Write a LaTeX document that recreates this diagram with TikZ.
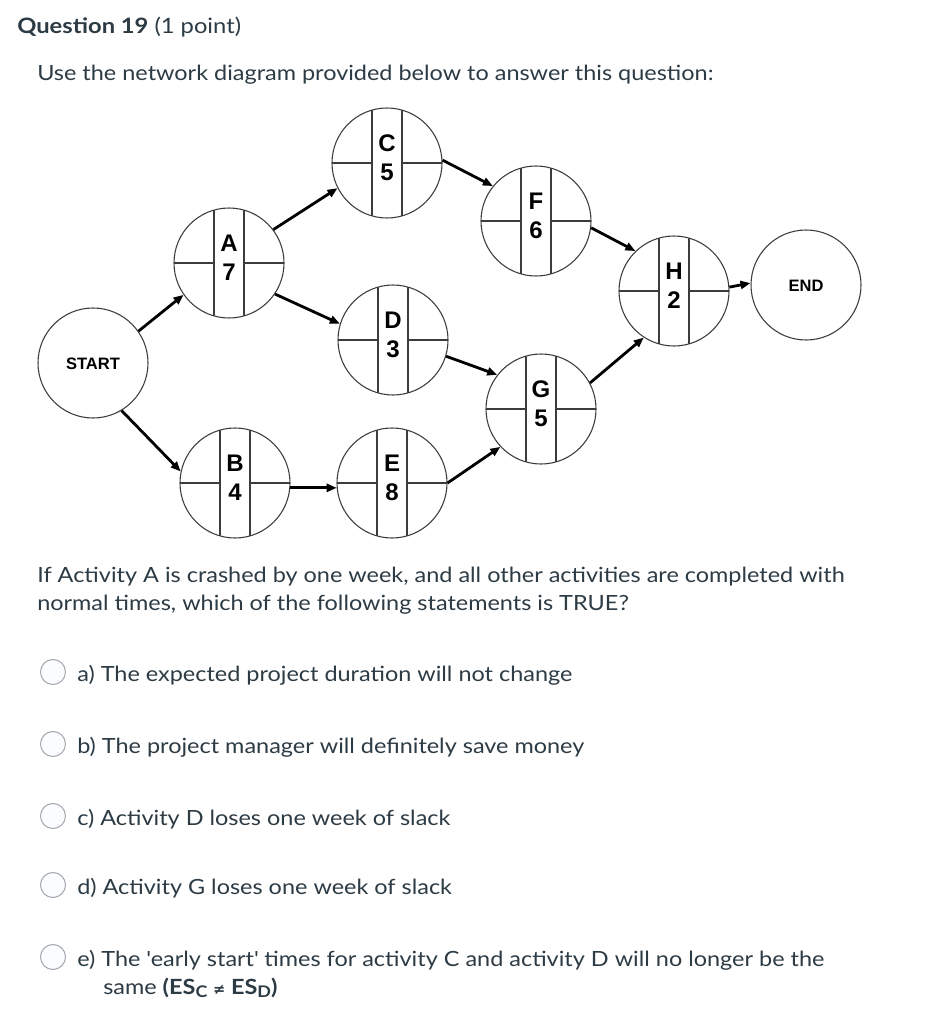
\documentclass[tikz,border=0pt]{standalone}
\usepackage{fontspec}
\setmainfont{Lato}[FakeStretch=1.12]
\newfontfamily\arialf{Liberation Sans}
\newfontfamily\dejavu{DejaVu Sans}
\usetikzlibrary{arrows.meta}
\definecolor{txt}{HTML}{2D3B45}
\definecolor{circ}{HTML}{3C3C3C}
\definecolor{radio}{HTML}{A3A9B0}
\definecolor{radiofill}{HTML}{FBFCFF}
\tikzset{
  actc/.style={circle,draw=circ,line width=0.8pt,inner sep=0pt,minimum size=82.5pt},
  divline/.style={draw=circ,line width=0.8pt},
  actlet/.style={anchor=base,font=\arialf\bfseries\fontsize{18}{18}\selectfont,text=black,inner sep=0pt},
  lbl/.style={anchor=base,font=\arialf\bfseries\fontsize{12.4}{12.4}\selectfont,text=black,inner sep=0pt},
  arr/.style={draw=black,line width=2.1pt,-{Triangle[length=7.5pt,width=6pt]}},
  body/.style={anchor=base west,inner sep=0pt,text=txt,font=\fontsize{15.7}{15.7}\selectfont},
  radiob/.style={circle,draw=radio,fill=radiofill,line width=0.8pt,inner sep=0pt,minimum size=18.75pt}
}
\newcommand\activity[5]{%
  \node[actc] (#1) at (#2,#3) {};
  \begin{scope}[shift={(#2,#3)}]
    \draw[divline] (-15,-52.9) -- (-15,52.9);
    \draw[divline] (15,-52.9) -- (15,52.9);
    \draw[divline] (-55,0) -- (-15,0);
    \draw[divline] (15,0) -- (55,0);
    \node[actlet] (#1let) at (0,-11.5) {#4};
    \node[actlet] (#1num) at (0,17.5) {#5};
  \end{scope}}
\begin{document}
\begin{tikzpicture}[x=0.75pt,y=-0.75pt]
\useasboundingbox[fill=white] (0,0) rectangle (952,1024);
% header
\node[body,font=\fontsize{15.9}{15.9}\selectfont] (title) at (17,34) {\textbf{Question 19} (1 point)};
\node[body] (intro) at (37,80) {Use the network diagram provided below to answer this question:};
% network
\node[actc] (START) at (93,363) {};
\node[lbl] (startlbl) at (93,369) {START};
\node[actc] (END) at (806,285) {};
\node[lbl] (endlbl) at (806,291) {END};
\activity{A}{229}{263}{A}{7}
\activity{C}{387}{163}{C}{5}
\activity{D}{393}{340}{D}{3}
\activity{B}{235}{483}{B}{4}
\activity{E}{392}{483}{E}{8}
\activity{F}{536}{221}{F}{6}
\activity{G}{541}{409}{G}{5}
\activity{H}{674}{291}{H}{2}
\draw[arr] (START.35) -- (A.215);
\draw[arr] (START.-59) -- (B.168);
\draw[arr] (A.37) -- (C.207);
\draw[arr] (A.-34) -- (D.163);
\draw[arr] (B.-5) -- (E.185);
\draw[arr] (C.3) -- (F.141);
\draw[arr] (D.-17) -- (G.142);
\draw[arr] (E.0) -- (G.223);
\draw[arr] (F.-7) -- (H.134);
\draw[arr] (G.28) -- (H.237);
\draw[arr] (H.4) -- (END.178);
% question
\node[body] (q1) at (37,582) {If Activity A is crashed by one week, and all other activities are completed with};
\node[body] (q2) at (37,610) {normal times, which of the following statements is TRUE?};
% options
\node[radiob] (ra) at (53,672) {};
\node[body] (oa) at (77,681) {a) The expected project duration will not change};
\node[radiob] (rb) at (53,744) {};
\node[body] (ob) at (77,753) {b) The project manager will definitely save money};
\node[radiob] (rc) at (53,816) {};
\node[body] (oc) at (77,825) {c) Activity D loses one week of slack};
\node[radiob] (rd) at (53,885) {};
\node[body] (od) at (77,894) {d) Activity G loses one week of slack};
\node[radiob] (re) at (53,957) {};
\node[body] (oe) at (77,966) {e) The \textquotesingle early start\textquotesingle{} times for activity C and activity D will no longer be the};
\node[body] (oe2) at (103,994) {same \textbf{(ES\raisebox{-0.3ex}{\fontsize{12}{12}\selectfont C} {\dejavu\fontsize{11}{11}\selectfont ≠} ES\raisebox{-0.3ex}{\fontsize{12}{12}\selectfont D})}};
\end{tikzpicture}
\end{document}
